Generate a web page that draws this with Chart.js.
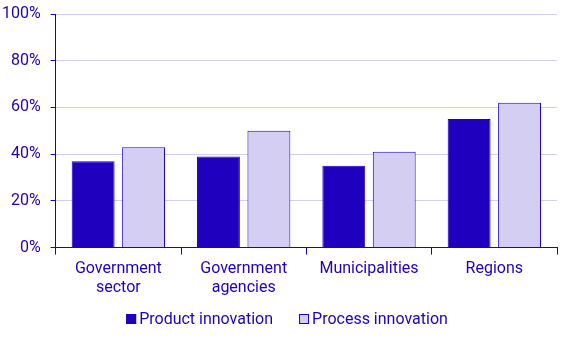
<!DOCTYPE html>
<html><head><meta charset="utf-8">
<script src="https://cdn.jsdelivr.net/npm/chart.js@4/dist/chart.umd.min.js"></script>
<style>html,body{margin:0;padding:0;background:#fff}#wrap{width:567px;height:340px}</style>
</head><body><div id="wrap"><canvas id="c"></canvas></div>
<script>
const categories = [["Government","sector"],["Government","agencies"],"Municipalities","Regions"];
const productInnovation = [37, 39, 35, 55];
const processInnovation = [43, 50, 41, 62];
const yTicks = [0, 20, 40, 60, 80, 100];

const dark = '#2000bf';
const light = '#d3cef2';
const fontFamily = 'Roboto, "Noto Sans", sans-serif';
Chart.defaults.font.family = fontFamily;
Chart.defaults.font.size = 16;
Chart.defaults.color = dark;

// Legend drawn below the chart: small square box, short gap, label text
const bottomLegend = {
  id: 'bottomLegend',
  afterDraw(chart) {
    const ctx = chart.ctx;
    const box = 10, gap = 3, itemGap = 26;
    ctx.save();
    ctx.font = '16px ' + fontFamily;
    ctx.textBaseline = 'middle';
    ctx.textAlign = 'left';
    const items = chart.data.datasets.map(ds => ({ds, w: box + gap + ctx.measureText(ds.label).width}));
    const total = items.reduce((a, it) => a + it.w, 0) + itemGap * (items.length - 1);
    const cx = 287, cy = 319;
    let x = cx - total / 2;
    items.forEach(it => {
      ctx.fillStyle = it.ds.backgroundColor;
      ctx.fillRect(x, cy - box / 2, box, box);
      ctx.strokeStyle = it.ds.borderColor;
      ctx.lineWidth = 1;
      ctx.strokeRect(x + 0.5, cy - box / 2 + 0.5, box - 1, box - 1);
      ctx.fillStyle = dark;
      ctx.fillText(it.ds.label, x + box + gap, cy + 1);
      x += it.w + itemGap;
    });
    ctx.restore();
  }
};

new Chart(document.getElementById('c'), {
  type: 'bar',
  data: {
    labels: categories,
    datasets: [
      {label: 'Product innovation', data: productInnovation, backgroundColor: dark, borderColor: dark, borderWidth: 1},
      {label: 'Process innovation', data: processInnovation, backgroundColor: light, borderColor: dark, borderWidth: 1}
    ]
  },
  plugins: [bottomLegend],
  options: {
    responsive: true, maintainAspectRatio: false, animation: false,
    layout: {padding: {top: 1, right: 10, left: -8, bottom: 37}},
    datasets: {bar: {categoryPercentage: 0.805, barPercentage: 0.85}},
    plugins: {
      legend: {display: false},
      tooltip: {enabled: false}
    },
    scales: {
      x: {
        offset: true,
        grid: {display: true, drawOnChartArea: false, drawTicks: true, tickLength: 7, tickColor: dark, offset: true},
        border: {color: dark, width: 1},
        ticks: {color: dark, font: {size: 16}, padding: 5, maxRotation: 0}
      },
      y: {
        min: 0, max: 100,
        afterFit: (s) => { s.paddingTop = 14; },
        afterBuildTicks: (s) => { s.ticks = yTicks.map(v => ({value: v})); },
        grid: {color: light, tickColor: dark, tickLength: 5},
        border: {color: dark, width: 1},
        ticks: {color: dark, font: {size: 16}, padding: 10, callback: v => v + '%'}
      }
    }
  }
});
</script></body></html>
